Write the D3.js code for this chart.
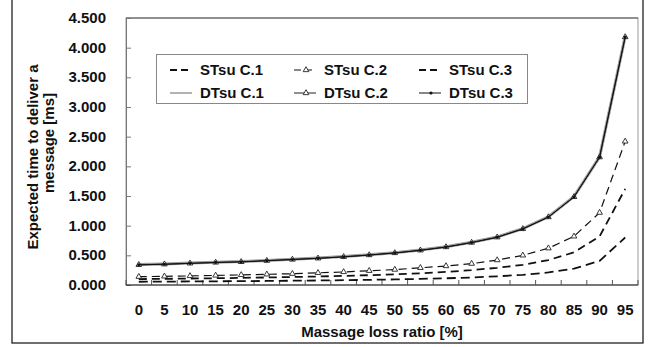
<!DOCTYPE html>
<html>
<head>
<meta charset="UTF-8">
<script src="https://d3js.org/d3.v7.min.js"></script>
<style>
  body { margin: 0; padding: 0; background: #fff; }
  svg text { font-family: "Liberation Sans", Arial, sans-serif; font-weight: bold; fill: #111; }
</style>
</head>
<body>
<svg id="chart" width="650" height="347"></svg>
<script>
// 横轴类别（消息丢失率 %）
const lossRatio = ["0", "5", "10", "15", "20", "25", "30", "35", "40", "45",
                   "50", "55", "60", "65", "70", "75", "80", "85", "90", "95"];

// 纵轴刻度
const yTicks = [0, 0.5, 1, 1.5, 2, 2.5, 3, 3.5, 4, 4.5];

// 各序列
const stC1 = [0.100, 0.104, 0.109, 0.114, 0.120, 0.127, 0.135, 0.143, 0.153, 0.165,
              0.180, 0.198, 0.220, 0.250, 0.290, 0.340, 0.420, 0.550, 0.820, 1.620];
const stC2 = [0.140, 0.146, 0.153, 0.161, 0.170, 0.180, 0.190, 0.205, 0.220, 0.240,
              0.260, 0.290, 0.320, 0.360, 0.420, 0.500, 0.620, 0.820, 1.220, 2.420];
const stC3 = [0.055, 0.057, 0.060, 0.062, 0.065, 0.068, 0.072, 0.076, 0.081, 0.087,
              0.094, 0.103, 0.113, 0.127, 0.146, 0.172, 0.211, 0.276, 0.406, 0.800];
const dtC1 = [0.345, 0.355, 0.370, 0.385, 0.395, 0.415, 0.435, 0.455, 0.480, 0.510,
              0.545, 0.590, 0.645, 0.720, 0.810, 0.950, 1.150, 1.490, 2.160, 4.190];
const dtC2 = [0.340, 0.350, 0.365, 0.380, 0.390, 0.410, 0.430, 0.450, 0.475, 0.505,
              0.540, 0.585, 0.640, 0.715, 0.805, 0.945, 1.145, 1.485, 2.155, 4.180];
const dtC3 = [0.340, 0.350, 0.365, 0.380, 0.390, 0.410, 0.430, 0.450, 0.475, 0.505,
              0.540, 0.585, 0.640, 0.715, 0.805, 0.945, 1.145, 1.485, 2.155, 4.180];

const series = [
  { name: "STsu C.1", values: stC1, stroke: "#111", width: 1.8, dash: "8,5", marker: null },
  { name: "STsu C.2", values: stC2, stroke: "#111", width: 1.2, dash: "8,5", marker: "tri" },
  { name: "STsu C.3", values: stC3, stroke: "#111", width: 1.8, dash: "9,5", marker: null },
  { name: "DTsu C.1", values: dtC1, stroke: "#999", width: 3, dash: null, marker: null },
  { name: "DTsu C.2", values: dtC2, stroke: "#222", width: 1, dash: null, marker: "tri" },
  { name: "DTsu C.3", values: dtC3, stroke: "#111", width: 1, dash: null, marker: "dot" }
];

const svg = d3.select("#chart");

// 外框
svg.append("rect")
  .attr("x", 12).attr("y", -2).attr("width", 631).attr("height", 345)
  .attr("fill", "none").attr("stroke", "#222").attr("stroke-width", 1.3);

// 绘图区
const plot = { left: 126, right: 638, top: 18, bottom: 285 };

const x = d3.scaleBand().domain(lossRatio).range([plot.left, plot.right]);
const y = d3.scaleLinear().domain([0, 4.5]).range([plot.bottom, plot.top]);

svg.append("rect")
  .attr("x", plot.left).attr("y", plot.top)
  .attr("width", plot.right - plot.left).attr("height", plot.bottom - plot.top)
  .attr("fill", "none").attr("stroke", "#999").attr("stroke-width", 1);
svg.append("line")
  .attr("x1", plot.left).attr("x2", plot.right).attr("y1", plot.top).attr("y2", plot.top)
  .attr("stroke", "#555");

// y 轴
const yAxis = svg.append("g")
  .attr("transform", `translate(${plot.left},0)`)
  .call(d3.axisRight(y).tickValues(yTicks).tickSize(5).tickFormat(""));
yAxis.select(".domain").attr("stroke", "#777");
yAxis.selectAll(".tick line").attr("stroke", "#777");

svg.append("g").selectAll("text")
  .data(yTicks)
  .join("text")
  .attr("x", 106)
  .attr("y", d => y(d) + 5)
  .attr("text-anchor", "end")
  .style("font-size", "15px")
  .text(d => d3.format(".3f")(d));

// x 轴（刻度在类别之间）
const bounds = lossRatio.map(d => x(d)).concat([plot.right]);
svg.append("line")
  .attr("x1", plot.left).attr("x2", plot.right)
  .attr("y1", plot.bottom).attr("y2", plot.bottom)
  .attr("stroke", "#222").attr("stroke-width", 1.2);
svg.append("g").selectAll("line")
  .data(bounds)
  .join("line")
  .attr("x1", d => d).attr("x2", d => d)
  .attr("y1", plot.bottom).attr("y2", plot.bottom - 5)
  .attr("stroke", "#555");

svg.append("g").selectAll("text")
  .data(lossRatio)
  .join("text")
  .attr("x", d => x(d) + x.bandwidth() / 2)
  .attr("y", 315)
  .attr("text-anchor", "middle")
  .style("font-size", "15px")
  .text(d => d);

svg.append("text")
  .attr("x", (plot.left + plot.right) / 2)
  .attr("y", 337)
  .attr("text-anchor", "middle")
  .style("font-size", "15px")
  .text("Massage loss ratio [%]");

// y 轴标题（两行）
svg.append("text")
  .attr("transform", "translate(38,157) rotate(-90)")
  .attr("text-anchor", "middle")
  .style("font-size", "15px")
  .text("Expected time to deliver a");
svg.append("text")
  .attr("transform", "translate(54,143) rotate(-90)")
  .attr("text-anchor", "middle")
  .style("font-size", "15px")
  .text("message [ms]");

// 折线
const cx = (d, i) => x(lossRatio[i]) + x.bandwidth() / 2;
const line = d3.line().x(cx).y(d => y(d));

const tri = d3.symbol().type(d3.symbolTriangle).size(14);

function drawMarkers(g, s, pts) {
  if (s.marker === "tri") {
    g.selectAll("path.m")
      .data(pts)
      .join("path")
      .attr("class", "m")
      .attr("transform", d => `translate(${d[0]},${d[1]})`)
      .attr("d", tri)
      .attr("fill", "#fff").attr("stroke", "#222").attr("stroke-width", 0.9);
  } else if (s.marker === "dot") {
    g.selectAll("circle.m")
      .data(pts)
      .join("circle")
      .attr("class", "m")
      .attr("cx", d => d[0]).attr("cy", d => d[1])
      .attr("r", 1.6).attr("fill", "#111");
  }
}

series.forEach(s => {
  const g = svg.append("g");
  g.append("path")
    .datum(s.values)
    .attr("fill", "none")
    .attr("stroke", s.stroke)
    .attr("stroke-width", s.width)
    .attr("stroke-dasharray", s.dash)
    .attr("d", line);
  drawMarkers(g, s, s.values.map((v, i) => [cx(v, i), y(v)]));
});

// 图例
const legend = svg.append("g");
legend.append("rect")
  .attr("x", 156.5).attr("y", 54.5).attr("width", 371).attr("height", 49)
  .attr("fill", "#fff").attr("stroke", "#888");

const colX = [170, 294, 419];
const rowY = [70, 93];
series.forEach((s, i) => {
  const lx = colX[i % 3], ly = rowY[Math.floor(i / 3)];
  const g = legend.append("g");
  g.append("line")
    .attr("x1", lx).attr("x2", lx + 22).attr("y1", ly).attr("y2", ly)
    .attr("stroke", s.stroke)
    .attr("stroke-width", s.width === 3 ? 1.5 : s.width)
    .attr("stroke-dasharray", s.dash ? "7,4" : null);
  drawMarkers(g, s, [[lx + 12, ly]]);
  g.append("text")
    .attr("x", lx + 30)
    .attr("y", ly + 5)
    .style("font-size", "15px")
    .text(s.name);
});
</script>
</body>
</html>
